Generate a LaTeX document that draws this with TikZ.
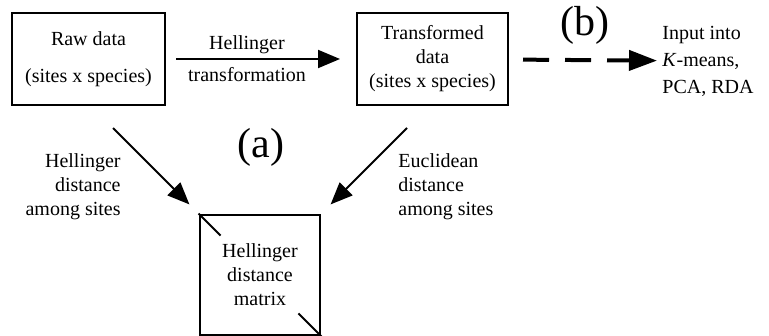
\documentclass[tikz,border=0pt]{standalone}
\usepackage{fontspec}
\setmainfont{Liberation Serif}
\usetikzlibrary{arrows.meta}
\tikzset{
	box/.style={draw, line width=1.4pt, align=center, inner sep=2pt},
	arr/.style={-{Triangle[length=11pt,width=9pt]}, line width=1pt},
	dasharr/.style={-{Triangle[length=14pt,width=10pt]}, line width=2pt,
			dash pattern=on 13pt off 8pt},
	lbl/.style={inner sep=0pt},
	big/.style={inner sep=0pt, font=\fontsize{21}{24}\selectfont}
}

\begin{document}
\begin{tikzpicture}[x=0.5pt,y=-0.5pt]
	\useasboundingbox (0,0) rectangle (769,336);
	\node[box, minimum width=76.5pt, minimum height=46pt] (raw) at (88.5,59) {Raw data\\[6.5pt](sites x species)};
	\node[box, minimum width=75.5pt, minimum height=46pt] (trans) at (432.5,59) {Transformed\\data\\(sites x species)};
	\node[box, minimum width=60pt, minimum height=60pt] (mat) at (260,275) {Hellinger\\distance\\matrix};
	\node[lbl, align=left, anchor=west] (input) at (662,61) {Input into\\[1.5pt]\textit{K}-means,\\[1.5pt]PCA, RDA};
	\node[lbl] (htop) at (247,45) {Hellinger};
	\node[lbl] (hbot) at (247,75) {transformation};
	\node[lbl, align=right, anchor=east] (hdist) at (121,187) {Hellinger\\distance\\among sites};
	\node[lbl, align=left, anchor=west] (edist) at (398,187) {Euclidean\\distance\\among sites};
	\node[big] (a) at (261,147) {(a)};
	\node[big] (b) at (585,25) {(b)};
	\coordinate (hd) at (113,128);
	\coordinate (ed) at (407,128);
	% arrows
	\draw[arr, shorten <=4.8pt, shorten >=7.8pt] (raw) -- (trans);
	\draw[dasharr, shorten <=6.8pt, shorten >=2.5pt] (trans) -- (input);
	\draw[arr, shorten >=6.5pt] (hd) -- (mat.north west);
	\draw[arr, shorten >=6.5pt] (ed) -- (mat.north east);
	% corner ticks of the matrix
	\draw[line width=1pt] (mat.north west) -- ([shift={(22,22)}]mat.north west);
	\draw[line width=1pt] (mat.south east) -- ([shift={(-23,-23)}]mat.south east);
\end{tikzpicture}
\end{document}
